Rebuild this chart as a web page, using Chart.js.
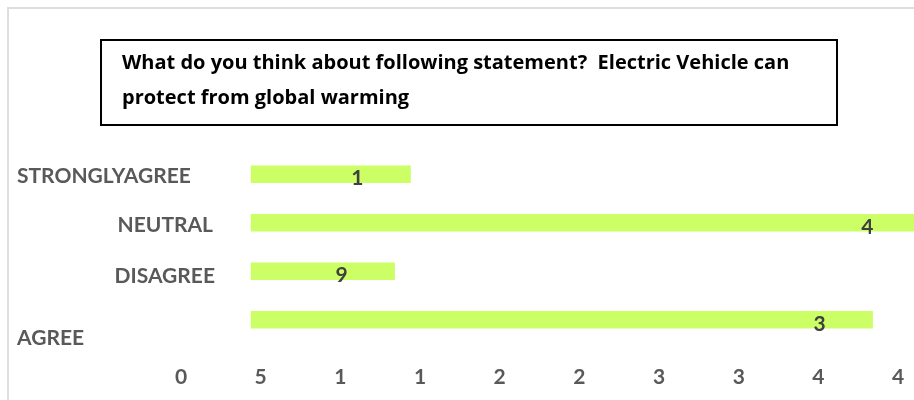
<!DOCTYPE html>
<html>
<head>
  <title>Electric Vehicle survey</title>
  <style>
    body {
      margin: 0;
      padding: 0;
      background-color: #ffffff;
      overflow: hidden;
    }
    .frame {
      position: absolute;
      left: 7px;
      top: 7px;
      width: 1000px;
      height: 500px;
      border: 2px solid #dedede;
    }
    .wrap {
      position: absolute;
      left: 0;
      top: 0;
      width: 914px;
      height: 400px;
    }
    .title_box {
      position: absolute;
      left: 100px;
      top: 39px;
      width: 738px;
      height: 87px;
      border: 2px solid #000000;
      box-sizing: border-box;
      padding: 3px 0 0 20px;
      font-family: "Open Sans", sans-serif;
      font-weight: bold;
      font-size: 20px;
      line-height: 35px;
      color: #000000;
      white-space: pre;
    }
  </style>
  <script src="https://cdn.jsdelivr.net/npm/chart.js"></script>
</head>
<body>
  <div class="frame"></div>
  <div class="wrap">
    <canvas id="ev_chart" width="914" height="400"></canvas>
  </div>
  <div class="title_box">What do you think about following statement?  Electric Vehicle can
protect from global warming</div>

  <script>
    // 응답 데이터
    var categories = ['STRONGLYAGREE', 'NEUTRAL', 'DISAGREE', 'AGREE'];
    var responses = [10, 42, 9, 39];
    // 막대 위에 보이는 값 (그림에서 잘린 그대로)
    var valueLabels = ['1', '4', '9', '3'];
    // x축 눈금 값과 라벨 (라벨은 잘린 그대로)
    var tickValues = [0, 5, 10, 15, 20, 25, 30, 35, 40, 45];
    var tickLabels = ['0', '5', '1', '1', '2', '2', '3', '3', '4', '4'];

    // 카테고리 라벨 위치 (스타일)
    var catPlace = [
      { x: 17, align: 'left', dy: 9 },
      { x: 213, align: 'right', dy: 9.5 },
      { x: 215, align: 'right', dy: 11.5 },
      { x: 17, align: 'left', dy: 25.5 }
    ];

    var labelFont = 'bold 21px Lato, sans-serif';

    var labelPlugin = {
      id: 'labelPlugin',
      afterDatasetsDraw: function(chart) {
        var ctx = chart.ctx;
        var yScale = chart.scales.y;
        ctx.save();
        ctx.font = labelFont;
        ctx.textBaseline = 'alphabetic';

        // 카테고리 라벨
        ctx.fillStyle = '#595959';
        categories.forEach(function(c, i) {
          var p = catPlace[i];
          ctx.textAlign = p.align;
          ctx.fillText(c, p.x, yScale.getPixelForValue(i) + p.dy);
        });

        // 막대 값 라벨
        ctx.fillStyle = '#404040';
        ctx.textAlign = 'center';
        var meta = chart.getDatasetMeta(0);
        meta.data.forEach(function(bar, i) {
          ctx.fillText(valueLabels[i], bar.x - 53, bar.y + 11);
        });
        ctx.restore();
      }
    };

    var evChart = new Chart(document.getElementById('ev_chart'), {
      type: 'bar',
      data: {
        labels: categories,
        datasets: [{
          data: responses,
          backgroundColor: '#ccff66',
          borderWidth: 0,
          barThickness: 17,
          xAxisID: 'xv',
          yAxisID: 'y'
        }]
      },
      options: {
        indexAxis: 'y',
        responsive: false,
        animation: false,
        layout: {
          padding: { left: 181, top: 150, right: 0, bottom: 0 }
        },
        plugins: {
          legend: { display: false },
          tooltip: { enabled: false }
        },
        scales: {
          y: {
            type: 'category',
            display: false,
            offset: true
          },
          x: {
            type: 'linear',
            position: 'bottom',
            min: 0,
            max: 46,
            grid: { display: false, drawTicks: false },
            border: { display: false },
            ticks: {
              padding: 21,
              autoSkip: false,
              color: '#595959',
              font: { family: 'Lato', size: 21, weight: 'bold' },
              maxRotation: 0,
              callback: function(v, i) { return tickLabels[i]; }
            },
            afterBuildTicks: function(scale) {
              scale.ticks = tickValues.map(function(v) { return { value: v }; });
            },
            afterFit: function(scale) {
              scale.height = 56;
              scale.paddingLeft = 0;
              scale.paddingRight = 0;
            }
          },
          xv: {
            type: 'linear',
            axis: 'x',
            display: false,
            min: -4.4,
            max: 41.6
          }
        }
      },
      plugins: [labelPlugin]
    });
  </script>
</body>
</html>
